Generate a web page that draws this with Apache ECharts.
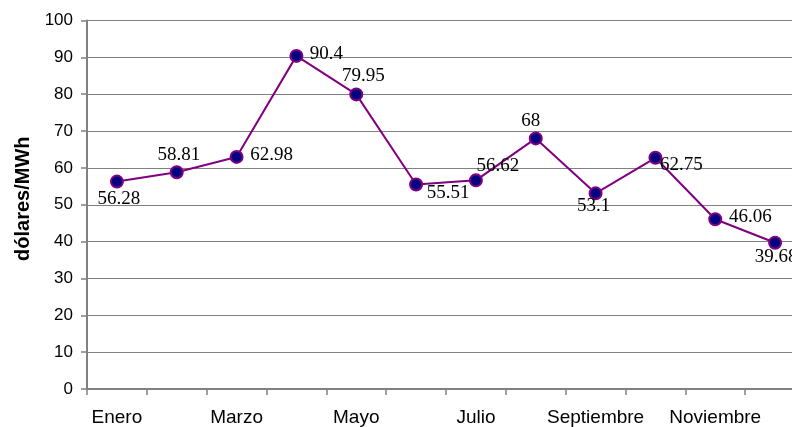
<!DOCTYPE html>
<html>
<head>
<meta charset="utf-8">
<script src="https://cdn.jsdelivr.net/npm/echarts@6/dist/echarts.min.js"></script>
<style>
html,body{margin:0;padding:0;background:#fff;overflow:hidden;width:792px;height:427px;}
#c{width:805px;height:427px;}
</style>
</head>
<body>
<div id="c"></div>
<script>
var months = ["Enero","Febrero","Marzo","Abril","Mayo","Junio","Julio","Agosto","Septiembre","Octubre","Noviembre","Diciembre"];
var prices = [56.28, 58.81, 62.98, 90.4, 79.95, 55.51, 56.62, 68, 53.1, 62.75, 46.06, 39.68];
var yTicks = [0, 10, 20, 30, 40, 50, 60, 70, 80, 90, 100];
var yName = "dólares/MWh";

// label placement (styling), centre offset from each point in px
var labelOffsets = [[3,18],[3,-16],[36,-1],[31,-1],[8,-17],[33,10],[23,-13],[-4,-16],[-1,14],[27,8],[36,-1],[2,15]];
var SYM = 12;

var seriesData = prices.map(function(v, i){
  return {
    value: v,
    label: { show: true, position: [SYM / 2 + labelOffsets[i][0], SYM / 2 + labelOffsets[i][1]] }
  };
});

var chart = echarts.init(document.getElementById('c'), null, {renderer:'canvas'});
chart.setOption({
  animation: false,
  backgroundColor: '#ffffff',
  grid: { left: 87, top: 20.5, bottom: 38, right: 0, containLabel: false },
  xAxis: {
    type: 'category',
    data: months,
    boundaryGap: true,
    axisLine: { lineStyle: { color: '#808080', width: 2 } },
    axisTick: { show: true, interval: 0, length: 6, lineStyle: { color: '#808080', width: 1.5 } },
    axisLabel: { interval: 1, margin: 19, color: '#000', fontFamily: 'Liberation Sans, Arial, sans-serif', fontSize: 19 },
    splitLine: { show: false }
  },
  yAxis: {
    type: 'value',
    min: yTicks[0],
    max: yTicks[yTicks.length - 1],
    interval: yTicks[1] - yTicks[0],
    name: yName,
    nameLocation: 'middle',
    nameGap: 52,
    nameRotate: 90,
    nameTextStyle: { fontFamily: 'Liberation Sans, Arial, sans-serif', fontWeight: 'bold', fontSize: 20, color: '#000', padding: [0, 0, 0, 12] },
    axisLine: { show: true, lineStyle: { color: '#808080', width: 2 } },
    axisTick: { show: true, length: 6, lineStyle: { color: '#808080', width: 1.5 } },
    axisLabel: { margin: 14, color: '#000', fontFamily: 'Liberation Sans, Arial, sans-serif', fontSize: 17 },
    splitLine: { show: true, lineStyle: { color: '#808080', width: 1 } }
  },
  series: [{
    type: 'line',
    data: seriesData,
    symbol: 'circle',
    symbolSize: SYM,
    itemStyle: { color: '#000080', borderColor: '#800080', borderWidth: 2 },
    lineStyle: { color: '#800080', width: 2 },
    label: {
      show: true,
      color: '#000',
      fontFamily: 'Liberation Serif, Times New Roman, serif',
      fontSize: 19,
      align: 'center',
      verticalAlign: 'middle'
    },
    labelLayout: { hideOverlap: false }
  }]
});
</script>
</body>
</html>
